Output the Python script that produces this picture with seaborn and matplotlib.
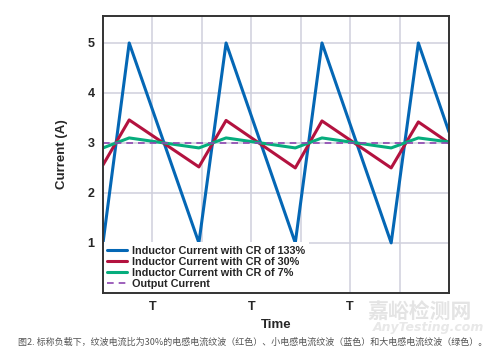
import matplotlib
matplotlib.use("Agg")
import matplotlib.pyplot as plt
import seaborn as sns
import pandas as pd

# time points (units of T/2 grid spacing) and values
time = [0, 0.53, 1.94, 2.49, 3.89, 4.43, 5.83, 6.38, 7.0]
cr133 = [1.0, 5.0, 1.0, 5.0, 1.0, 5.0, 1.0, 5.0, 3.22]
cr30 = [2.56, 3.46, 2.52, 3.45, 2.50, 3.44, 2.50, 3.42, 3.0]
cr7 = [2.90, 3.10, 2.90, 3.10, 2.90, 3.10, 2.90, 3.10, 3.02]
out_time = [0, 7.0]
out_current = [3.0, 3.0]

labels = ["Inductor Current with CR of 133%",
          "Inductor Current with CR of 30%",
          "Inductor Current with CR of 7%",
          "Output Current"]
colors = ["#0467b5", "#b3123f", "#06ad7d", "#8d46b0"]
xtick_labels = ["T", "", "T", "", "T", ""]

caption = "图2. 标称负载下，纹波电流比为30%的电感电流纹波（红色）、小电感电流纹波（蓝色）和大电感电流纹波（绿色）。"

sns.set_style("white")
plt.rcParams["font.family"] = ["Liberation Sans", "DejaVu Sans"]
plt.rcParams["font.weight"] = "bold"

fig = plt.figure(figsize=(5, 3.55), dpi=100)
ax = fig.add_axes([0.206, 0.175, 0.692, 0.780])

ax.grid(True, color="#cfd0dc", linewidth=1.1)
ax.set_axisbelow(True)

for vals, lab, col in zip([cr133, cr30, cr7], labels[:3], colors[:3]):
    df = pd.DataFrame({"t": time, "i": vals})
    sns.lineplot(data=df, x="t", y="i", ax=ax, color=col, linewidth=2.2,
                 label=lab, sort=False)
df_out = pd.DataFrame({"t": out_time, "i": out_current})
sns.lineplot(data=df_out, x="t", y="i", ax=ax, color=colors[3], linewidth=1.2,
             linestyle=(0, (4, 3)), label=labels[3])

ax.set_xlim(0, 7)
ax.set_ylim(0, 5.54)
ax.set_xticks([1, 2, 3, 4, 5, 6])
ax.set_xticklabels(xtick_labels)
ax.set_yticks([1, 2, 3, 4, 5])
ax.tick_params(length=0, labelsize=9, pad=6)
ax.set_xlabel("Time", fontsize=9.5, fontweight="bold", labelpad=4)
ax.set_ylabel("Current (A)", fontsize=9.5, fontweight="bold", labelpad=14)
for s in ax.spines.values():
    s.set_color("#333333")
    s.set_linewidth(1.4)

leg = ax.legend(loc="lower left", frameon=True, fontsize=7.8, handlelength=1.8,
                handletextpad=0.45, labelspacing=0.08, borderpad=0.35,
                borderaxespad=0.05, fancybox=False)
leg.get_frame().set_facecolor("white")
leg.get_frame().set_edgecolor("none")
leg.get_frame().set_alpha(1.0)

fig.text(0.036, 0.028, caption, fontsize=6.5, color="#555555",
         family=["Noto Sans CJK SC", "DejaVu Sans"], fontweight="normal")
# faint site watermark, kept clear of the other texts
fig.text(0.735, 0.105, "嘉峪检测网", fontsize=15, color="#e4e4e4",
         family=["Noto Sans CJK SC", "DejaVu Sans"], zorder=0)
fig.text(0.745, 0.068, "AnyTesting.com", fontsize=9, color="#e8e8e8",
         style="italic", family=["DejaVu Sans"], zorder=0)

fig.savefig("out.png", dpi=100)
